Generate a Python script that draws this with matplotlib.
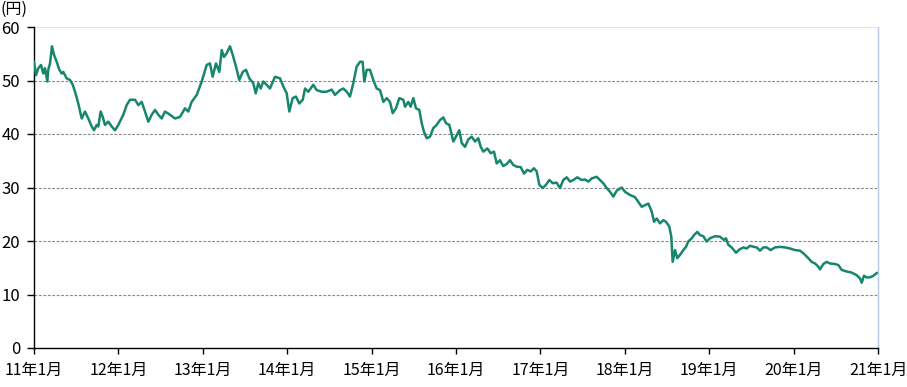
import numpy as np
import matplotlib.pyplot as plt

plt.rcParams['font.family'] = ['Noto Sans CJK JP', 'DejaVu Sans']

# years elapsed since Jan 2011, and price (yen)
t = [0.00, 0.024, 0.051, 0.083, 0.110, 0.130, 0.158, 0.169, 0.190, 0.213, 0.237, 0.269,
     0.300, 0.328, 0.347, 0.387, 0.427, 0.459, 0.486, 0.525, 0.565, 0.604, 0.643, 0.684,
     0.711, 0.743, 0.762, 0.790, 0.814, 0.841, 0.880, 0.921, 0.960, 0.999, 1.058, 1.098,
     1.137, 1.197, 1.236, 1.276, 1.315, 1.354, 1.395, 1.434, 1.473, 1.513, 1.552, 1.611,
     1.671, 1.730, 1.789, 1.828, 1.868, 1.928, 1.987, 2.046, 2.085, 2.117, 2.156, 2.196,
     2.224, 2.251, 2.283, 2.322, 2.354, 2.393, 2.432, 2.473, 2.512, 2.551, 2.598, 2.627,
     2.658, 2.686, 2.717, 2.757, 2.796, 2.855, 2.915, 2.954, 2.994, 3.025, 3.065, 3.104,
     3.143, 3.184, 3.211, 3.250, 3.309, 3.349, 3.409, 3.468, 3.527, 3.566, 3.626, 3.665,
     3.705, 3.744, 3.783, 3.823, 3.863, 3.894, 3.913, 3.942, 3.981, 4.020, 4.060, 4.100,
     4.139, 4.179, 4.218, 4.250, 4.289, 4.328, 4.376, 4.396, 4.435, 4.463, 4.494, 4.526,
     4.565, 4.594, 4.621, 4.653, 4.692, 4.731, 4.771, 4.810, 4.850, 4.882, 4.921, 4.968,
     5.000, 5.039, 5.068, 5.107, 5.146, 5.186, 5.225, 5.264, 5.293, 5.324, 5.371, 5.411,
     5.450, 5.482, 5.521, 5.560, 5.601, 5.640, 5.679, 5.719, 5.767, 5.806, 5.845, 5.885,
     5.924, 5.956, 5.987, 6.027, 6.066, 6.106, 6.146, 6.193, 6.232, 6.271, 6.312, 6.351,
     6.390, 6.437, 6.489, 6.528, 6.568, 6.608, 6.667, 6.706, 6.745, 6.785, 6.825, 6.864,
     6.904, 6.963, 7.002, 7.062, 7.121, 7.160, 7.200, 7.239, 7.279, 7.319, 7.346, 7.378,
     7.417, 7.456, 7.488, 7.527, 7.551, 7.567, 7.595, 7.622, 7.654, 7.693, 7.725, 7.752,
     7.793, 7.820, 7.859, 7.891, 7.930, 7.970, 8.009, 8.069, 8.128, 8.175, 8.199, 8.226,
     8.266, 8.318, 8.357, 8.404, 8.444, 8.483, 8.531, 8.563, 8.602, 8.641, 8.681, 8.728,
     8.779, 8.839, 8.898, 8.957, 9.017, 9.076, 9.123, 9.174, 9.214, 9.254, 9.293, 9.313,
     9.352, 9.392, 9.431, 9.491, 9.530, 9.570, 9.629, 9.688, 9.748, 9.787, 9.807, 9.834,
     9.866, 9.905, 9.945, 9.985]
price = [53.5, 51.0, 52.3, 52.9, 51.3, 52.3, 49.8, 52.0, 53.2, 56.4, 54.8, 53.5,
         52.0, 51.3, 51.6, 50.4, 50.1, 49.2, 47.9, 45.7, 42.9, 44.2, 42.9, 41.4,
         40.7, 41.7, 41.4, 44.2, 43.2, 41.7, 42.3, 41.4, 40.7, 41.7, 43.6, 45.4,
         46.4, 46.4, 45.4, 46.0, 44.2, 42.3, 43.6, 44.5, 43.6, 42.9, 44.2, 43.6,
         42.9, 43.2, 44.8, 44.2, 46.0, 47.3, 49.8, 52.9, 53.2, 50.7, 53.2, 51.6,
         55.7, 54.4, 55.1, 56.4, 54.8, 52.6, 50.1, 51.6, 52.0, 50.4, 49.5, 47.6,
         49.5, 48.5, 49.8, 49.2, 48.5, 50.7, 50.4, 48.9, 47.6, 44.2, 46.7, 47.0,
         45.7, 46.4, 48.5, 47.9, 49.2, 48.2, 47.9, 47.9, 48.3, 47.3, 48.2, 48.5,
         47.9, 47.0, 49.5, 52.6, 53.5, 53.5, 49.8, 52.0, 52.0, 50.1, 48.5, 48.2,
         46.0, 46.7, 46.0, 43.9, 44.8, 46.7, 46.4, 45.1, 46.0, 45.1, 46.7, 44.8,
         44.5, 42.0, 40.4, 39.2, 39.5, 41.1, 41.7, 42.6, 43.1, 42.0, 41.7, 38.6,
         39.5, 40.7, 38.3, 37.6, 39.0, 39.5, 38.6, 39.2, 37.6, 36.7, 37.3, 36.4,
         36.7, 34.5, 35.1, 34.0, 34.4, 35.1, 34.2, 33.9, 33.8, 32.6, 33.3, 33.0,
         33.6, 33.0, 30.5, 29.9, 30.5, 31.4, 30.8, 30.9, 29.9, 31.4, 31.9, 31.1,
         31.4, 31.9, 31.4, 31.5, 31.1, 31.7, 32.0, 31.4, 30.8, 29.9, 29.2, 28.3,
         29.4, 30.0, 29.2, 28.6, 28.2, 27.3, 26.4, 26.7, 27.0, 25.5, 23.6, 24.2,
         23.3, 23.9, 23.6, 22.7, 20.8, 16.1, 18.3, 16.8, 17.4, 18.3, 18.9, 19.9,
         20.5, 21.1, 21.7, 21.1, 20.9, 19.9, 20.5, 20.9, 20.8, 20.2, 20.5, 19.3,
         18.8, 17.8, 18.4, 18.8, 18.6, 19.1, 18.9, 18.8, 18.2, 18.8, 18.8, 18.3,
         18.8, 18.9, 18.8, 18.6, 18.3, 18.2, 17.6, 16.8, 16.1, 15.8, 15.2, 14.7,
         15.7, 16.1, 15.8, 15.7, 15.5, 14.6, 14.3, 14.1, 13.6, 13.0, 12.2, 13.5,
         13.2, 13.2, 13.5, 14.0]

xticks = list(range(11))
xlabels = ['%d年1月' % (11 + i) for i in xticks]
yticks = [0, 10, 20, 30, 40, 50, 60]

fig = plt.figure(figsize=(9.07, 3.87), dpi=100)
ax = fig.add_axes([34/907, 1 - 348/387, (878 - 34)/907, (348 - 27)/387])

for v in yticks[1:-1]:
    ax.axhline(v, color='#888888', lw=0.8, ls=(0, (2.5, 1.5)), zorder=1)
ax.axhline(60, color='#e6e6e6', lw=0.8, zorder=1)

ax.plot(t, price, color='#16876c', lw=1.8, zorder=3)

ax.set_xlim(0, 10)
ax.set_ylim(0, 60)
ax.set_xticks(xticks)
ax.set_xticklabels(xlabels, fontsize=11.5)
ax.set_yticks(yticks)
ax.set_yticklabels([str(v) for v in yticks], fontsize=12)
ax.tick_params(axis='x', direction='out', length=4, width=1, pad=6)
ax.tick_params(axis='y', direction='out', length=5, width=1, pad=5)

ax.spines['top'].set_visible(False)
ax.spines['right'].set_color('#b4c7e7')
ax.spines['right'].set_linewidth(1)
ax.spines['left'].set_linewidth(1)
ax.spines['bottom'].set_linewidth(1)

fig.text(0.0, 1 - 9/387, '(円)', fontsize=11.5, va='center', ha='left')

plt.savefig('out.png', dpi=100)
